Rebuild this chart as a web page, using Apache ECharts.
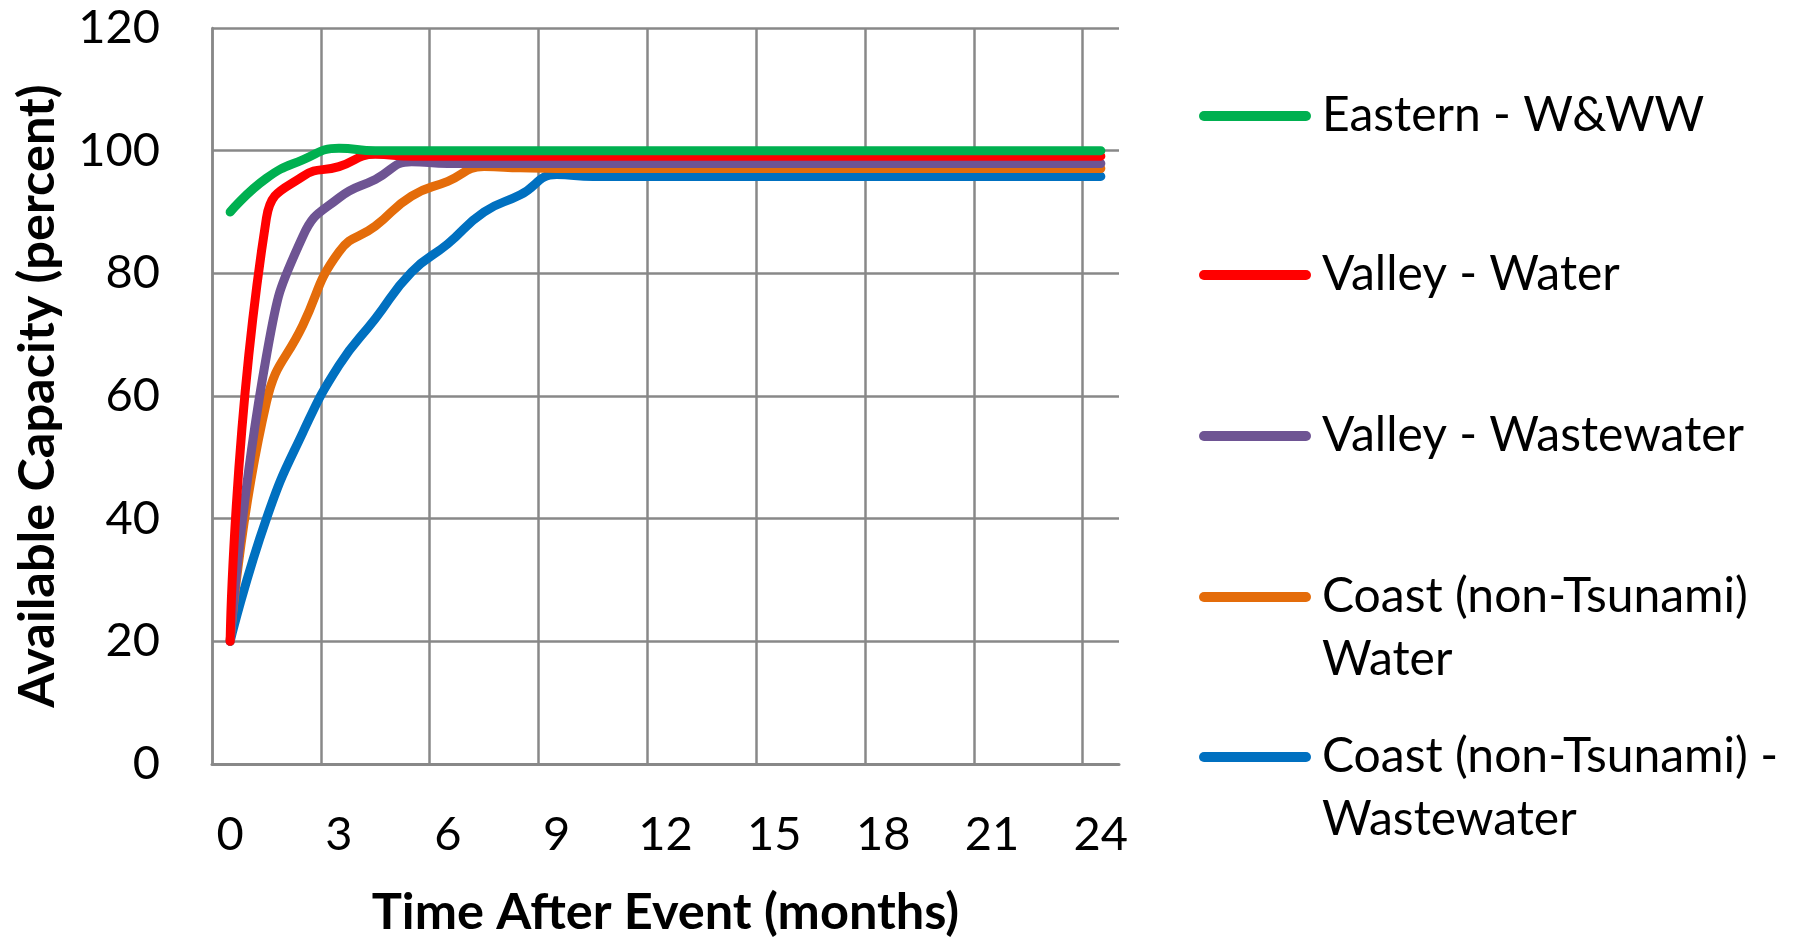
<!DOCTYPE html>
<html>
<head>
<meta charset="utf-8">
<script src="https://cdn.jsdelivr.net/npm/echarts@6/dist/echarts.min.js"></script>
<style>
html,body{margin:0;padding:0;background:#ffffff;}
#chart{width:1818px;height:943px;}
</style>
</head>
<body>
<div id="chart"></div>
<script>
// ---- data ----
const months = ['0','1','2','3','4','5','6','7','8','9','10','11','12','13','14','15','16','17','18','19','20','21','22','23','24'];
const seriesNames = ['Eastern - W&WW','Valley - Water','Valley - Wastewater','Coast (non-Tsunami) Water','Coast (non-Tsunami) - Wastewater'];
const legendLabels = ['Eastern - W&WW','Valley - Water','Valley - Wastewater','Coast (non-Tsunami)\nWater','Coast (non-Tsunami) -\nWastewater'];
const easternWWW      = [90, 95.5, 98.5, 100.4, 100, 100, 100, 100, 100, 100, 100, 100, 100, 100, 100, 100, 100, 100, 100, 100, 100, 100, 100, 100, 100];
const valleyWater     = [20, 89, 95.8, 97.4, 99.4, 99.1, 99.1, 99.1, 99.1, 99.1, 99.1, 99.1, 99.1, 99.1, 99.1, 99.1, 99.1, 99.1, 99.1, 99.1, 99.1, 99.1, 99.1, 99.1, 99.1];
const valleyWastewater= [20, 66.5, 86, 92.3, 95.3, 98.2, 97.9, 97.9, 97.9, 97.9, 97.9, 97.9, 97.9, 97.9, 97.9, 97.9, 97.9, 97.9, 97.9, 97.9, 97.9, 97.9, 97.9, 97.9, 97.9];
const coastWater      = [20, 59, 71.5, 83.5, 87.7, 92.6, 95, 97.4, 97.2, 97.1, 97.1, 97.1, 97.1, 97.1, 97.1, 97.1, 97.1, 97.1, 97.1, 97.1, 97.1, 97.1, 97.1, 97.1, 97.1];
const coastWastewater = [20, 40, 54, 65, 72.6, 80.2, 84.8, 90, 92.8, 96.1, 95.8, 95.8, 95.8, 95.8, 95.8, 95.8, 95.8, 95.8, 95.8, 95.8, 95.8, 95.8, 95.8, 95.8, 95.8];
const allValues = [easternWWW, valleyWater, valleyWastewater, coastWater, coastWastewater];
const colors = ['#00B050','#FF0000','#6E5493','#E46C0A','#0070C0'];
const yTicks = {min: 0, max: 120, interval: 20};

// ---- style ----
const FONT = 'Lato';
const gridColor = '#888888';
const legendIconY = [116, 275, 436, 597, 757];
const legendLine = 63;

const chart = echarts.init(document.getElementById('chart'), null, {renderer: 'canvas'});

const legends = seriesNames.map((name, i) => {
  const twoLines = legendLabels[i].indexOf('\n') >= 0;
  return {
    data: [name],
    left: 1199,
    top: twoLines ? legendIconY[i] - legendLine * 1.5 : legendIconY[i] - legendLine / 2,
    padding: 0,
    itemWidth: 112,
    itemHeight: 10,
    selectedMode: false,
    icon: 'path://M5,0 L107,0 A5,5 0 0 1 107,10 L5,10 A5,5 0 0 1 5,0 Z',
    itemStyle: {color: colors[i], borderWidth: 0},
    // a blank first line keeps the icon level with the first text line
    formatter: () => (twoLines ? ' \n' : '') + legendLabels[i],
    textStyle: {
      fontFamily: FONT,
      fontSize: 48,
      color: '#000000',
      lineHeight: legendLine,
      padding: [0, 0, 0, 6]
    }
  };
});

const option = {
  backgroundColor: '#ffffff',
  animation: false,
  grid: {left: 212, top: 28, width: 907, height: 737, containLabel: false},
  legend: legends,
  xAxis: {
    type: 'category',
    data: months,
    boundaryGap: true,
    name: 'Time After Event (months)',
    nameLocation: 'middle',
    nameGap: 123,
    nameTextStyle: {fontFamily: FONT, fontWeight: 'bold', fontSize: 50.5, color: '#000000'},
    axisLine: {show: true, lineStyle: {color: gridColor, width: 3}},
    axisTick: {show: false, interval: 2},
    axisLabel: {interval: 2, margin: 47, fontFamily: FONT, fontSize: 47, color: '#000000'},
    splitLine: {show: true, interval: 2, showMaxLine: false, lineStyle: {color: gridColor, width: 2.5}}
  },
  yAxis: {
    type: 'value',
    min: yTicks.min,
    max: yTicks.max,
    interval: yTicks.interval,
    name: 'Available Capacity (percent)',
    nameLocation: 'middle',
    nameRotate: 90,
    nameGap: 149,
    nameTextStyle: {fontFamily: FONT, fontWeight: 'bold', fontSize: 50.5, color: '#000000'},
    axisLine: {show: true, lineStyle: {color: gridColor, width: 2.5}},
    axisTick: {show: false},
    axisLabel: {margin: 52, fontFamily: FONT, fontSize: 47, color: '#000000'},
    splitLine: {show: true, lineStyle: {color: gridColor, width: 2.5}}
  },
  series: seriesNames.map((name, i) => ({
    name: name,
    type: 'line',
    data: allValues[i],
    smooth: 0.5,
    symbol: 'none',
    showSymbol: false,
    color: colors[i],
    lineStyle: {color: colors[i], width: 9, cap: 'round', join: 'round'},
    emphasis: {disabled: true},
    z: 10 - i
  }))
};
chart.setOption(option);
</script>
</body>
</html>
